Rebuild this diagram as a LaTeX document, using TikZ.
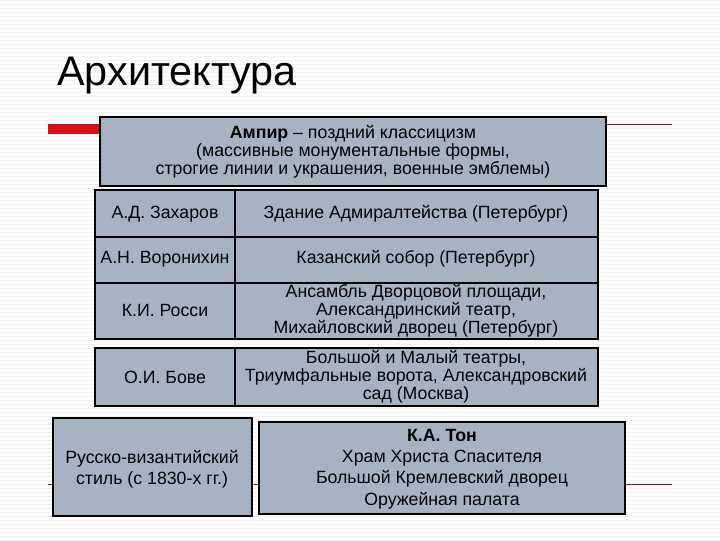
\documentclass[tikz,border=0pt]{standalone}
\usepackage{fontspec}
\setmainfont{Liberation Sans}
\definecolor{boxfill}{HTML}{A8B3C2}
\definecolor{darkred}{HTML}{A01010}
\definecolor{barred}{HTML}{D0121A}
\begin{document}
\begin{tikzpicture}[x=0.75pt,y=-0.75pt,
  cell/.style={draw=black,fill=boxfill,line width=0.8pt},
  thick box/.style={draw=black,fill=boxfill,line width=2.2pt},
  txt/.style={align=center,font=\fontsize{13.3}{12.2}\selectfont,inner sep=0pt}]
\useasboundingbox (0,0) rectangle (720,540);
\foreach \y in {0,4,...,540} \draw[black!5,line width=0.4pt] (0,\y) -- (720,\y);
\node[anchor=base west,font=\fontsize{31}{33}\selectfont,inner sep=0pt] (title) at (57,85) {Архитектура};
\fill[barred] (48,124) rectangle (100,134);
\draw[darkred,line width=0.6pt] (606,124) -- (672,124);
\draw[darkred,line width=0.6pt] (48,484) -- (672,484);
% top box
\draw[thick box] (100,117) rectangle (606,186);
\node[txt] (ampir) at (353,152) {\textbf{Ампир} – поздний классицизм\\(массивные монументальные формы,\\строгие линии и украшения, военные эмблемы)};
% table
\draw[cell] (95,190) rectangle (598,339);
\draw[cell] (95,237) -- (598,237);
\draw[cell] (95,283) -- (598,283);
\draw[cell] (235,190) -- (235,339);
\node[txt] (z) at (165,214) {А.Д. Захаров};
\node[txt] (zb) at (416,214) {Здание Адмиралтейства (Петербург)};
\node[txt] (v) at (165,259) {А.Н. Воронихин};
\node[txt] (vb) at (416,259) {Казанский собор (Петербург)};
\node[txt] (r) at (165,310) {К.И. Росси};
\node[txt] (rb) at (416,311) {Ансамбль Дворцовой площади,\\Александринский театр,\\Михайловский дворец (Петербург)};
\draw[cell] (95,348) rectangle (598,406);
\draw[cell] (235,348) -- (235,406);
\node[txt] (b) at (165,377) {О.И. Бове};
\node[txt] (bb) at (416,377) {Большой и Малый театры,\\Триумфальные ворота, Александровский\\сад (Москва)};
% bottom
\draw[thick box] (53,418) rectangle (252,516);
\node[txt,font=\fontsize{13.3}{16}\selectfont] (rv) at (152,469) {Русско-византийский\\стиль (с 1830-х гг.)};
\draw[cell] (259,422) rectangle (625,514);
\node[txt,font=\fontsize{13.3}{16}\selectfont] (ton) at (442,469) {\textbf{К.А. Тон}\\Храм Христа Спасителя\\Большой Кремлевский дворец\\Оружейная палата};
\end{tikzpicture}
\end{document}
